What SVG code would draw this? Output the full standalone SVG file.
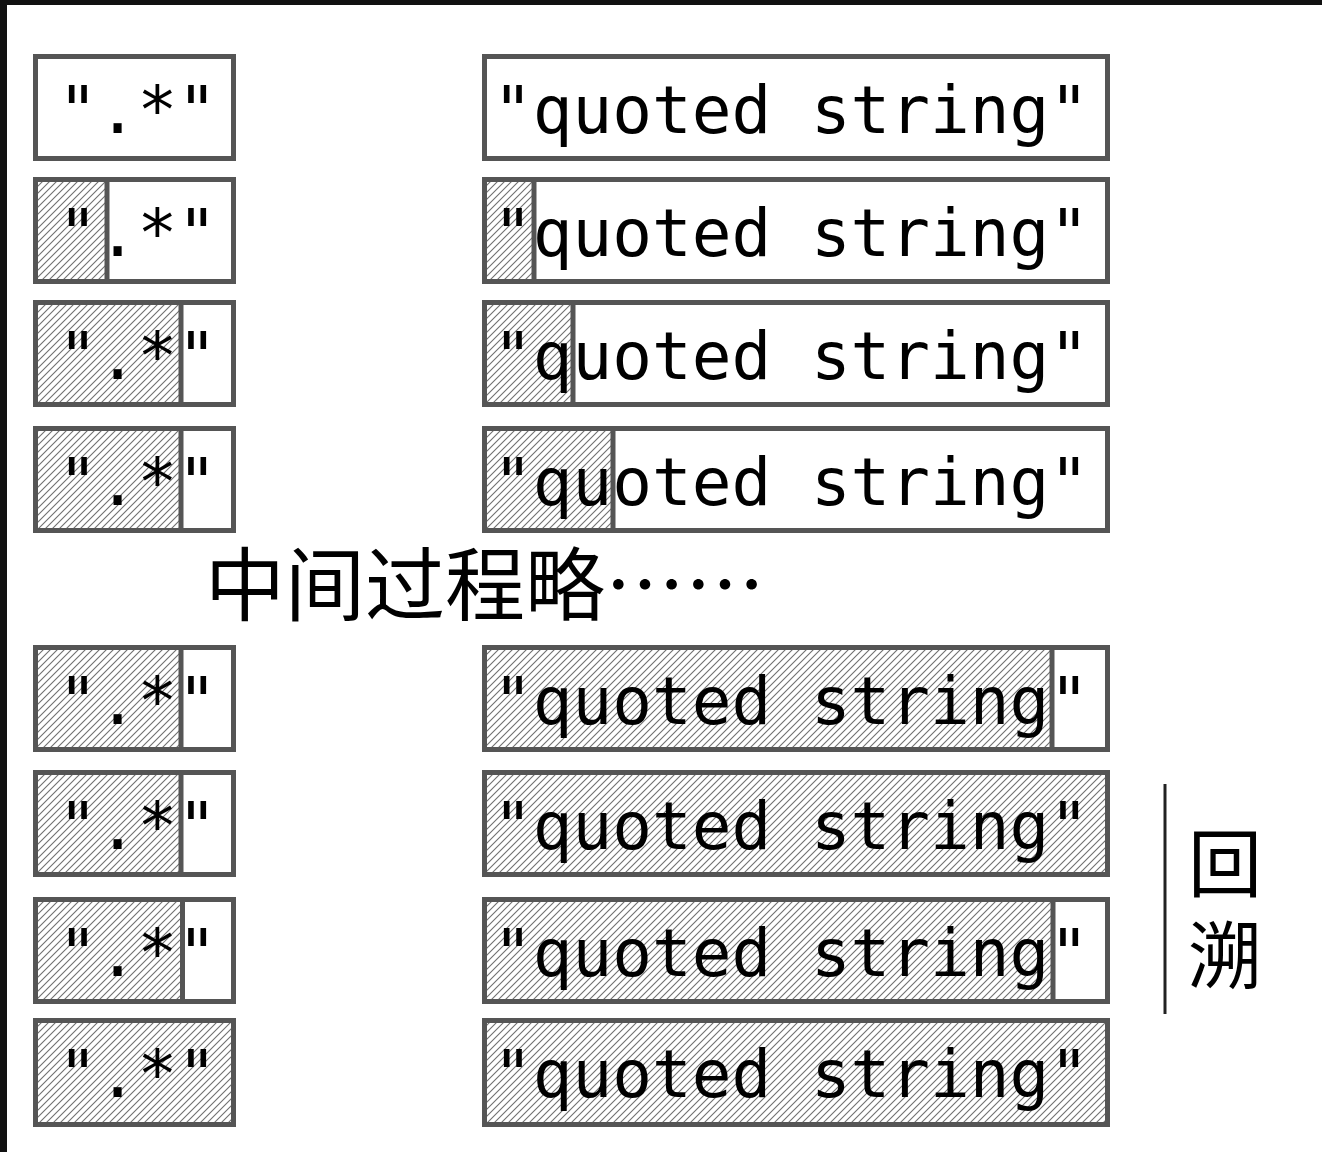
<svg xmlns="http://www.w3.org/2000/svg" width="1322" height="1152" viewBox="0 0 1322 1152">
<style>
.box{fill:none;stroke:#555;stroke-width:5;}
.sep{stroke:#555;stroke-width:5;}
.hatch{fill:url(#hatch);stroke:none;}
.lt{font-family:"DejaVu Sans Mono","Liberation Mono",monospace;font-size:66px;fill:#000;}
.rt{font-family:"DejaVu Sans Mono","Liberation Mono",monospace;font-size:66px;fill:#000;}
.cn{font-family:"Noto Sans CJK SC","Noto Sans CJK JP",sans-serif;fill:#000;}
</style>
<defs>
<pattern id="hatch" patternUnits="userSpaceOnUse" width="7" height="7">
<rect width="7" height="7" fill="#fff"/>
<path d="M-1,1 L1,-1 M0,7 L7,0 M6,8 L8,6" stroke="#707070" stroke-width="1.1"/>
</pattern>
</defs>
<rect x="0" y="0" width="1322" height="1152" fill="#111"/>
<rect x="7" y="5" width="1315" height="1147" fill="#fff"/>

<g id="left-1">
<rect class="box" x="35.5" y="56.5" width="198" height="102" fill="#fff"/>
<text class="lt" x="58" y="133">".*"</text>
</g>
<g id="right-1">
<rect class="box" x="484.5" y="56.5" width="623" height="102" fill="#fff"/>
<text class="rt" x="493" y="133">"quoted string"</text>
</g>

<g id="left-2">
<rect class="hatch" x="35.5" y="179.5" width="71.5" height="102"/>
<line class="sep" x1="107" y1="179.5" x2="107" y2="281.5"/>
<rect class="box" x="35.5" y="179.5" width="198" height="102"/>
<text class="lt" x="58" y="256">".*"</text>
</g>
<g id="right-2">
<rect class="hatch" x="484.5" y="179.5" width="49.5" height="102"/>
<line class="sep" x1="534" y1="179.5" x2="534" y2="281.5"/>
<rect class="box" x="484.5" y="179.5" width="623" height="102"/>
<text class="rt" x="493" y="256">"quoted string"</text>
</g>

<g id="left-3">
<rect class="hatch" x="35.5" y="302.5" width="145.5" height="102"/>
<line class="sep" x1="181" y1="302.5" x2="181" y2="404.5"/>
<rect class="box" x="35.5" y="302.5" width="198" height="102"/>
<text class="lt" x="58" y="379">".*"</text>
</g>
<g id="right-3">
<rect class="hatch" x="484.5" y="302.5" width="88.5" height="102"/>
<line class="sep" x1="573" y1="302.5" x2="573" y2="404.5"/>
<rect class="box" x="484.5" y="302.5" width="623" height="102"/>
<text class="rt" x="493" y="379">"quoted string"</text>
</g>

<g id="left-4">
<rect class="hatch" x="35.5" y="428.5" width="145.5" height="102"/>
<line class="sep" x1="181" y1="428.5" x2="181" y2="530.5"/>
<rect class="box" x="35.5" y="428.5" width="198" height="102"/>
<text class="lt" x="58" y="505">".*"</text>
</g>
<g id="right-4">
<rect class="hatch" x="484.5" y="428.5" width="128.5" height="102"/>
<line class="sep" x1="613" y1="428.5" x2="613" y2="530.5"/>
<rect class="box" x="484.5" y="428.5" width="623" height="102"/>
<text class="rt" x="493" y="505">"quoted string"</text>
</g>

<g id="note-middle">
<text class="cn" x="205" y="614" font-size="80">中间过程略……</text>
</g>

<g id="left-5">
<rect class="hatch" x="35.5" y="647.5" width="145.5" height="102"/>
<line class="sep" x1="181" y1="647.5" x2="181" y2="749.5"/>
<rect class="box" x="35.5" y="647.5" width="198" height="102"/>
<text class="lt" x="58" y="724">".*"</text>
</g>
<g id="right-5">
<rect class="hatch" x="484.5" y="647.5" width="567.5" height="102"/>
<line class="sep" x1="1052" y1="647.5" x2="1052" y2="749.5"/>
<rect class="box" x="484.5" y="647.5" width="623" height="102"/>
<text class="rt" x="493" y="724">"quoted string"</text>
</g>

<g id="left-6">
<rect class="hatch" x="35.5" y="772.5" width="145.5" height="102"/>
<line class="sep" x1="181" y1="772.5" x2="181" y2="874.5"/>
<rect class="box" x="35.5" y="772.5" width="198" height="102"/>
<text class="lt" x="58" y="849">".*"</text>
</g>
<g id="right-6">
<rect class="hatch" x="484.5" y="772.5" width="623" height="102"/>
<rect class="box" x="484.5" y="772.5" width="623" height="102"/>
<text class="rt" x="493" y="849">"quoted string"</text>
</g>

<g id="left-7">
<rect class="hatch" x="35.5" y="899.5" width="147" height="102"/>
<line class="sep" x1="182.5" y1="899.5" x2="182.5" y2="1001.5"/>
<rect class="box" x="35.5" y="899.5" width="198" height="102"/>
<text class="lt" x="58" y="976">".*"</text>
</g>
<g id="right-7">
<rect class="hatch" x="484.5" y="899.5" width="568.5" height="102"/>
<line class="sep" x1="1053" y1="899.5" x2="1053" y2="1001.5"/>
<rect class="box" x="484.5" y="899.5" width="623" height="102"/>
<text class="rt" x="493" y="976">"quoted string"</text>
</g>

<g id="left-8">
<rect class="hatch" x="35.5" y="1020.5" width="198" height="104"/>
<rect class="box" x="35.5" y="1020.5" width="198" height="104"/>
<text class="lt" x="58" y="1097">".*"</text>
</g>
<g id="right-8">
<rect class="hatch" x="484.5" y="1020.5" width="623" height="104"/>
<rect class="box" x="484.5" y="1020.5" width="623" height="104"/>
<text class="rt" x="493" y="1097">"quoted string"</text>
</g>

<g id="connectors">
<line x1="1165" y1="784" x2="1165" y2="1014" stroke="#222" stroke-width="3"/>
</g>
<g id="backtrack-label">
<text class="cn" x="1225" y="826" font-size="74" writing-mode="vertical-rl" letter-spacing="18">回溯</text>
</g>
</svg>
